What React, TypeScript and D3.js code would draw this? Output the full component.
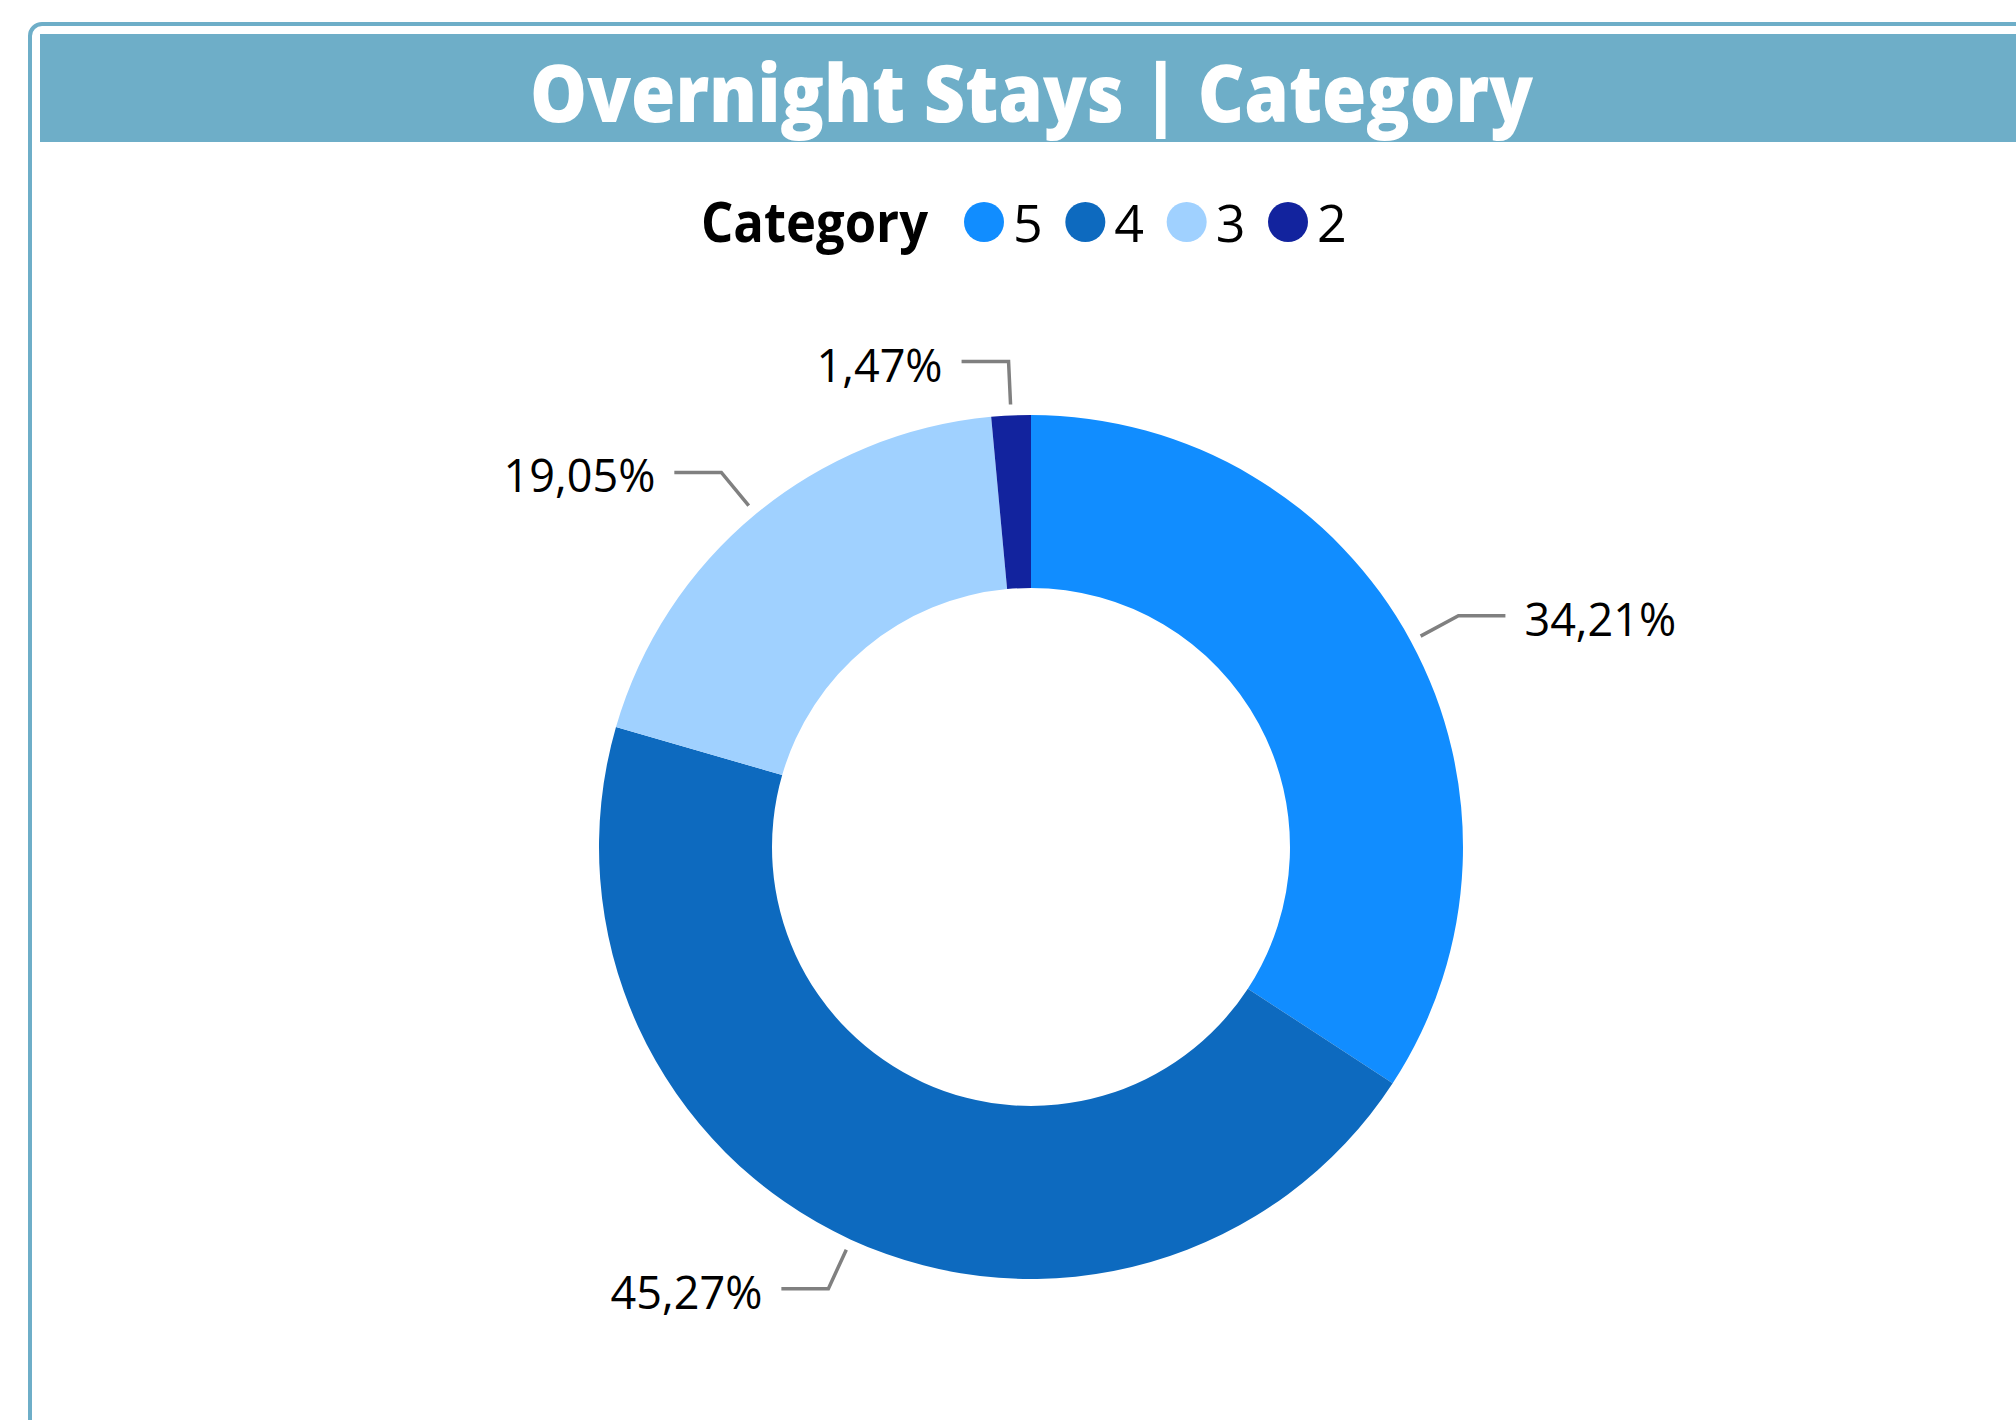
import React from "react";
import * as d3 from "d3";

const title = "Overnight Stays | Category";
const legendTitle = "Category";
const categories = ["5", "4", "3", "2"];
const shares = [34.21, 45.27, 19.05, 1.47];
const labels = ["34,21%", "45,27%", "19,05%", "1,47%"];
const colors = ["#118DFF", "#0D6ABF", "#A0D1FF", "#12239E"];

const W = 2016;
const H = 1420;
const FRAME = "#6EAEC8";
const FONT = "'Open Sans', 'Noto Sans', sans-serif";

export default function App() {
  const cx = 1031;
  const cy = 847;
  const R = 432;
  const r0 = 259;

  const pie = d3
    .pie<number>()
    .sort(null)
    .value((d) => d)
    .startAngle(0)
    .endAngle(2 * Math.PI);
  const arcs = pie(shares);
  const arcGen = d3.arc<d3.PieArcDatum<number>>().innerRadius(r0).outerRadius(R);

  const legendX = d3
    .scalePoint<string>()
    .domain(categories)
    .range([984, 1288]);

  return (
    <svg
      width={W}
      height={H}
      style={{ position: "absolute", left: 0, top: 0, background: "#fff" }}
      fontFamily={FONT}
    >
      <rect
        x={30}
        y={24}
        width={2010}
        height={1420}
        rx={12}
        ry={12}
        fill="#fff"
        stroke={FRAME}
        strokeWidth={4}
      />
      <rect x={40} y={34} width={1990} height={108} fill={FRAME} />
      <text
        x={1031.5}
        y={122}
        textAnchor="middle"
        fill="#fff"
        fontWeight={800}
        fontSize={80}
        textLength={1003}
        lengthAdjust="spacingAndGlyphs"
      >
        {title}
      </text>

      <text x={701} y={242} fontWeight={700} fontSize={55} fill="#000" textLength={227} lengthAdjust="spacingAndGlyphs">
        {legendTitle}
      </text>
      {categories.map((c, i) => (
        <g key={c}>
          <circle cx={legendX(c)} cy={222} r={20} fill={colors[i]} />
          <text x={(legendX(c) as number) + 29} y={242} fontSize={52} fill="#000">
            {c}
          </text>
        </g>
      ))}

      <g transform={`translate(${cx},${cy})`}>
        {arcs.map((a, i) => (
          <path key={i} d={arcGen(a) as string} fill={colors[i]} />
        ))}
        {arcs.map((a, i) => {
          const mid = (a.startAngle + a.endAngle) / 2;
          const s = Math.sin(mid);
          const c = Math.cos(mid);
          const p1 = [s * (R + 11), -c * (R + 11)];
          const p2 = [s * (R + 54), -c * (R + 54)];
          const right = s >= 0;
          const p3 = [p2[0] + (right ? 47 : -47), p2[1]];
          const tx = p3[0] + (right ? 19 : -19);
          return (
            <g key={"l" + i}>
              <polyline
                points={[p1, p2, p3].map((p) => p.join(",")).join(" ")}
                fill="none"
                stroke="#808080"
                strokeWidth={3.5}
              />
              <text
                x={tx}
                y={p3[1] + 20}
                textAnchor={right ? "start" : "end"}
                fontSize={45}
                fill="#000"
              >
                {labels[i]}
              </text>
            </g>
          );
        })}
      </g>
    </svg>
  );
}
